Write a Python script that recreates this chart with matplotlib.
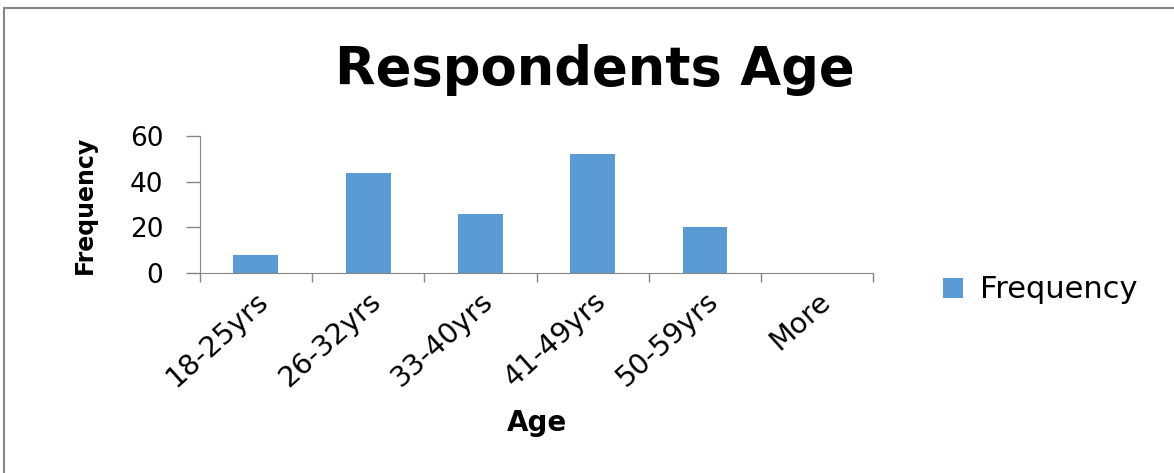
import matplotlib.pyplot as plt
from matplotlib.patches import Rectangle
import numpy as np

plt.rcParams['font.family'] = ['DejaVu Sans']

# data
age_groups = ['18-25yrs', '26-32yrs', '33-40yrs', '41-49yrs', '50-59yrs', 'More']
frequency = [8, 44, 26, 52, 20, 0]

fig = plt.figure(figsize=(11.74, 4.73), dpi=100)
ax = fig.add_axes([0.170, 0.423, 0.574, 0.289])

x = np.arange(len(age_groups))
ax.bar(x, frequency, width=0.4, color='#5B9BD5', label='Frequency')

ax.set_xlim(-0.5, len(age_groups) - 0.5)
ax.set_ylim(0, 60)
ax.set_yticks([0, 20, 40, 60])
ax.tick_params(axis='y', labelsize=19, length=10, color='#868686', width=1, pad=16)

# category ticks between bars, labels centered
ax.set_xticks(np.arange(-0.5, len(age_groups)), minor=False)
ax.set_xticklabels([])
ax.set_xticks(x, minor=True)
ax.set_xticklabels(age_groups, minor=True, rotation=42, ha='right',
                   rotation_mode='anchor', fontsize=20.5)
ax.tick_params(axis='x', which='major', length=6.5, color='#868686', width=1)
ax.tick_params(axis='x', which='minor', length=0, pad=10)

for s in ['top', 'right']:
    ax.spines[s].set_visible(False)
for s in ['left', 'bottom']:
    ax.spines[s].set_color('#868686')

ax.set_ylabel('Frequency', fontsize=17, fontweight='bold', labelpad=24)
ax.set_xlabel('Age', fontsize=20, fontweight='bold', labelpad=12)

fig.text(0.507, 0.852, 'Respondents Age', fontsize=38, fontweight='bold',
         ha='center', va='center')

fig.legend(loc='center left', bbox_to_anchor=(0.78, 0.387), frameon=False,
           fontsize=22, handlelength=0.65, handleheight=0.65, handletextpad=0.55)

# chart frame
fig.patches.append(Rectangle((0.003, -0.01), 1.0, 0.993, transform=fig.transFigure,
                             fill=False, edgecolor='#868686', linewidth=1.5))

fig.savefig('out.png', dpi=100)
